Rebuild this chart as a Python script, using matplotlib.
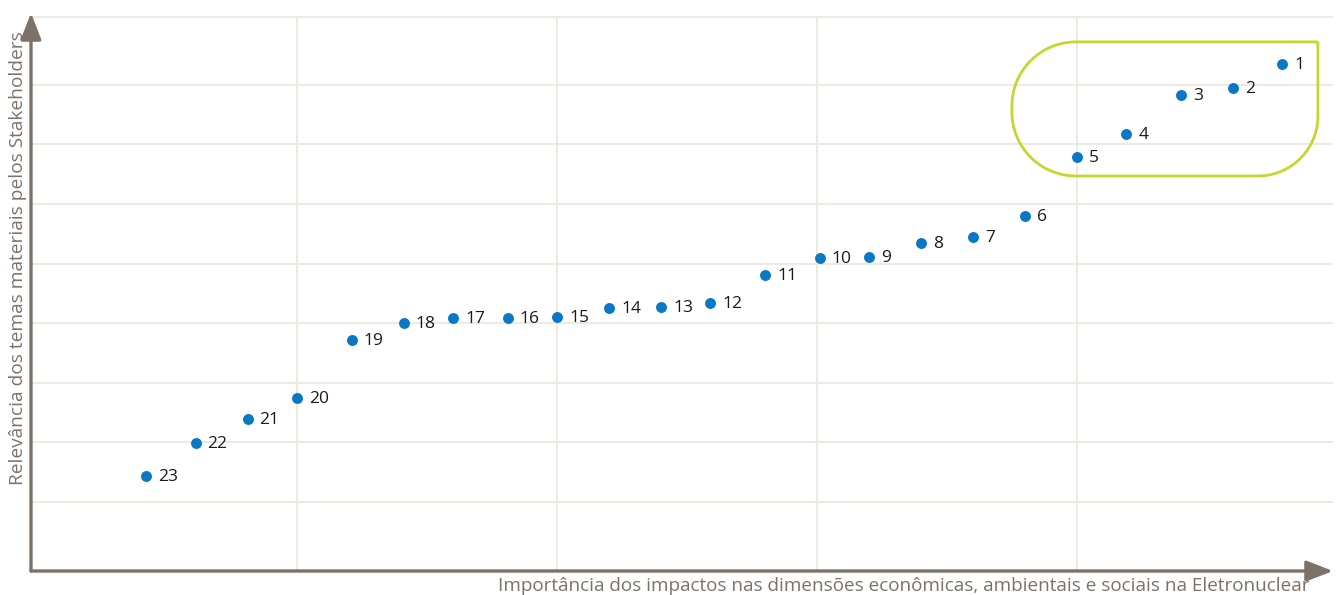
import numpy as np
import matplotlib
matplotlib.use("Agg")
from matplotlib import pyplot as plt
from matplotlib.path import Path
from matplotlib.patches import PathPatch

# temas materiais (id, x = impacto, y = relevancia)
ids = ["1", "2", "3", "4", "5", "6", "7", "8", "9", "10", "11", "12",
       "13", "14", "15", "16", "17", "18", "19", "20", "21", "22", "23"]
impacto = [4.79, 4.60, 4.40, 4.19, 4.00, 3.80, 3.60, 3.40, 3.20, 3.01, 2.80, 2.59,
           2.40, 2.20, 2.00, 1.81, 1.60, 1.41, 1.21, 1.00, 0.81, 0.61, 0.42]
relevancia = [8.35, 7.95, 7.83, 7.17, 6.79, 5.80, 5.45, 5.35, 5.11, 5.09, 4.81, 4.34,
              4.27, 4.26, 4.10, 4.09, 4.09, 4.00, 3.72, 2.74, 2.39, 1.99, 1.44]

xlabel = "Importância dos impactos nas dimensões econômicas, ambientais e sociais na Eletronuclear"
ylabel = "Relevância dos temas materiais pelos Stakeholders"

AXIS = "#7d7268"
GRID = "#ecebe3"
BLUE = "#0a78c4"
GREEN = "#c6d62e"

W, H = 1338, 595
fig = plt.figure(figsize=(W / 100, H / 100), dpi=100)
ax = fig.add_axes([31 / W, (H - 571) / H, (1333 - 31) / W, (571 - 13) / H])
xmin, xmax = -0.023, 4.985
ymin, ymax = -0.158, 9.205
ax.set_xlim(xmin, xmax)
ax.set_ylim(ymin, ymax)
for s in ax.spines.values():
    s.set_visible(False)
ax.set_xticks([])
ax.set_yticks([])

top = 9.14
for gy in [1, 2, 3, 4, 5, 6, 7, 8, top]:
    ax.plot([xmin, xmax], [gy, gy], color=GRID, lw=1.5, zorder=1)
for gx in [1, 2, 3, 4]:
    ax.plot([gx, gx], [ymin, top], color=GRID, lw=1.5, zorder=1)

# axes with arrows
arrow = dict(arrowstyle="-|>,head_length=0.9,head_width=0.35", color=AXIS, lw=2.4,
             shrinkA=0, shrinkB=0, mutation_scale=18)
ax.annotate("", xy=(1, 0), xytext=(0, 0), xycoords="axes fraction", arrowprops=arrow, zorder=5)
ax.annotate("", xy=(0, 1), xytext=(0, 0), xycoords="axes fraction", arrowprops=arrow, zorder=5)

# rounded highlight box (top-right corner square)
x0, x1, y0, y1 = 3.75, 4.927, 6.47, 8.72
rx_l, ry_l = 64 / 260, 64 / 59.6
rx_r, ry_r = 60 / 260, 60 / 59.6
pts = []
t = np.linspace(0, np.pi / 2, 30)
pts.append((x1, y1))
pts.append((x1, y0 + ry_r))
for a in t:  # bottom-right
    pts.append((x1 - rx_r + rx_r * np.cos(a), y0 + ry_r - ry_r * np.sin(a)))
pts.append((x0 + rx_l, y0))
for a in t:  # bottom-left
    pts.append((x0 + rx_l - rx_l * np.sin(a), y0 + ry_l - ry_l * np.cos(a)))
pts.append((x0, y1 - ry_l))
for a in t:  # top-left
    pts.append((x0 + rx_l - rx_l * np.cos(a), y1 - ry_l + ry_l * np.sin(a)))
pts.append((x1, y1))
ax.add_patch(PathPatch(Path(pts), fill=False, edgecolor=GREEN, lw=2.0, zorder=2))

ax.scatter(impacto, relevancia, s=62, color=BLUE, zorder=4, linewidths=0)
for lab, x, y in zip(ids, impacto, relevancia):
    ax.annotate(lab, (x, y), xytext=(12, -1), textcoords="offset pixels", va="center", ha="left",
                fontsize=12.5, family=["Open Sans", "DejaVu Sans"], color="#1a1a1a", zorder=6)

fig.text(1310 / W, (H - 586) / H, xlabel, ha="right", va="center", fontsize=13.6,
         family=["Open Sans", "DejaVu Sans"], color=AXIS)
fig.text(18 / W, (H - 258) / H, ylabel, ha="center", va="center", rotation=90, fontsize=13.8,
         family=["Open Sans", "DejaVu Sans"], color=AXIS)

fig.savefig("out.png", dpi=100)
